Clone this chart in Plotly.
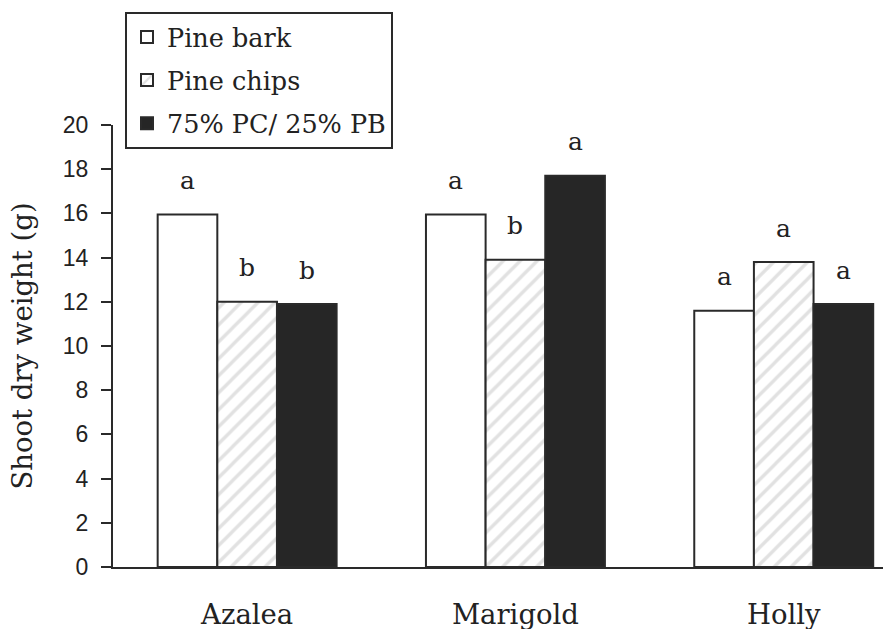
import plotly.graph_objects as go

categories = ["Azalea", "Marigold", "Holly"]
series_names = ["Pine bark", "Pine chips", "75% PC/ 25% PB"]
pine_bark = [15.95, 15.95, 11.6]
pine_chips = [12.0, 13.9, 13.8]
mix_pc_pb = [11.9, 17.7, 11.9]
letters = [["a", "a", "a"], ["b", "b", "a"], ["b", "a", "a"]]
y_ticks = [0, 2, 4, 6, 8, 10, 12, 14, 16, 18, 20]

SERIF = "DejaVu Serif"
SANS = "Liberation Sans"
BARGAP = 0.333
LINE = dict(color="#2a2a2a", width=2)

values = [pine_bark, pine_chips, mix_pc_pb]
styles = [
    dict(color="white", line=LINE),
    dict(color="white", line=LINE,
         pattern=dict(shape="/", fgcolor="#c4c4c4", size=12, solidity=0.28)),
    dict(color="#262626", line=LINE),
]

fig = go.Figure()
for k, (name, vals, mk) in enumerate(zip(series_names, values, styles)):
    fig.add_trace(go.Bar(x=list(range(len(categories))), y=vals, name=name,
                         marker=mk, legendgroup=f"g{k}"))

n = len(values)
bw = (1 - BARGAP) / n
for k, vals in enumerate(values):
    for i, v in enumerate(vals):
        fig.add_annotation(x=i + (k - (n - 1) / 2) * bw, y=v, text=letters[k][i],
                           showarrow=False, yshift=34, yanchor="middle",
                           font=dict(family=SERIF, size=25, color="#222"))

fig.update_layout(
    width=883, height=629,
    margin=dict(l=113, r=0, t=125, b=62),
    plot_bgcolor="white", paper_bgcolor="white",
    barmode="group", bargap=BARGAP, bargroupgap=0,
    showlegend=True,
    legend=dict(x=0.0156, y=1.256, xanchor="left", yanchor="top",
                bordercolor="#2a2a2a", borderwidth=2, bgcolor="white",
                font=dict(family=SERIF, size=25.5, color="#222"),
                tracegroupgap=7, itemwidth=30),
    xaxis=dict(range=[-0.5, 2.37], tickmode="array", automargin=False,
               tickvals=list(range(len(categories))), ticktext=categories,
               showline=True, linecolor="#2a2a2a", linewidth=2, ticks="",
               ticklabelstandoff=22, showgrid=False, zeroline=False,
               tickfont=dict(family=SERIF, size=27.5, color="#222")),
    yaxis=dict(range=[0, 20], tickvals=y_ticks, showline=True, automargin=False,
               linecolor="#2a2a2a", linewidth=2, ticks="outside", ticklen=10,
               tickwidth=2, tickcolor="#2a2a2a", ticklabelstandoff=8,
               showgrid=False, zeroline=False,
               tickfont=dict(family=SANS, size=23, color="#222"),
               title=dict(text="Shoot dry weight (g)", standoff=22,
                          font=dict(family=SERIF, size=27.5, color="#222"))),
)

fig.write_html("out.html", config={"displayModeBar": False},
               post_script="document.body.style.margin='0';document.body.style.padding='0';")
